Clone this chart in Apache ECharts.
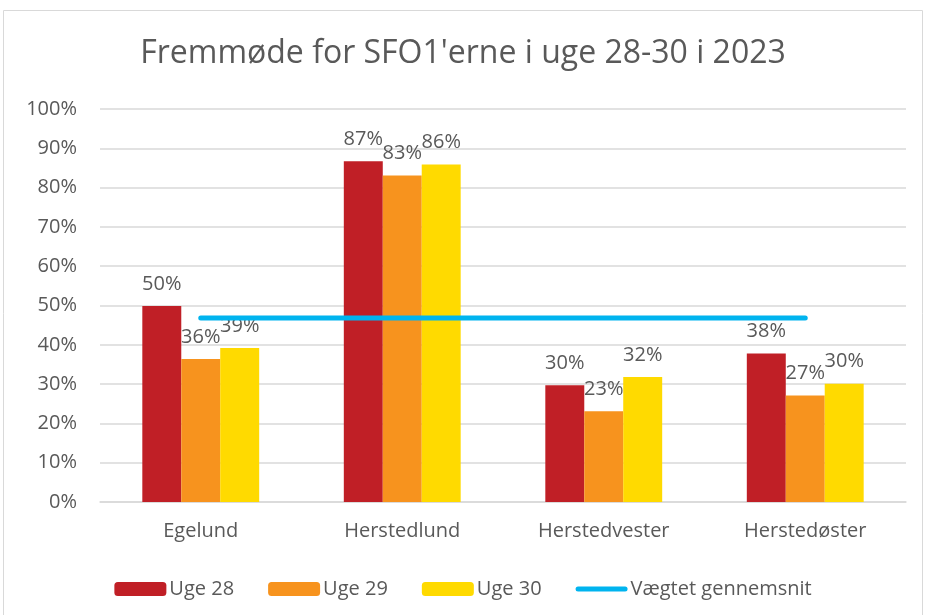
<!doctype html>
<html>
<head>
<meta charset="utf-8">
<title>Fremmøde for SFO1'erne</title>
<style>
  html, body { margin: 0; padding: 0; background: #fff; }
  #chart { width: 926px; height: 615px; }
</style>
</head>
<body>
<div id="chart"></div>
<script src="https://cdn.jsdelivr.net/npm/echarts@6/dist/echarts.min.js"></script>
<script>
// data (percent)
var categories = ['Egelund', 'Herstedlund', 'Herstedvester', 'Herstedøster'];
var uge28 = [49.9, 86.7, 29.7, 37.8];
var uge29 = [36.4, 83.1, 23.1, 27.1];
var uge30 = [39.2, 85.9, 31.8, 30.1];
var snit = [46.8, 46.8, 46.8, 46.8];
var yTicks = [0, 10, 20, 30, 40, 50, 60, 70, 80, 90, 100];

var FONT = 'Open Sans';
var GREY = '#595959';
var BLUE = '#00b4ef';

// thick rounded line for the legend, padded to the 52x14 icon box
var lineIcon = 'path://M0,0L0.01,0M52,14L51.99,14M2.5,4.5L49.5,4.5A2.5,2.5,0,0,1,49.5,9.5L2.5,9.5A2.5,2.5,0,0,1,2.5,4.5Z';

function barSeries(name, values, color) {
    return {
        name: name,
        type: 'bar',
        data: values,
        barGap: '0%',
        barCategoryGap: '42%',
        itemStyle: { color: color },
        label: {
            show: true,
            position: 'top',
            distance: 12,
            color: GREY,
            fontFamily: FONT,
            fontSize: 20,
            formatter: function (p) { return Math.round(p.value) + '%'; }
        }
    };
}

var chart = echarts.init(document.getElementById('chart'));
chart.setOption({
    animation: false,
    title: {
        text: "Fremmøde for SFO1'erne i uge 28-30 i 2023",
        left: 'center',
        top: 33,
        textStyle: { fontFamily: FONT, fontWeight: 'normal', fontSize: 32, color: GREY }
    },
    graphic: [{
        type: 'rect',
        shape: { x: 3.5, y: 10.5, width: 919, height: 610 },
        style: { fill: 'none', stroke: '#d9d9d9', lineWidth: 1 },
        silent: true
    }],
    legend: {
        top: 574,
        left: 'center',
        itemWidth: 52,
        itemHeight: 14,
        itemGap: 34,
        textStyle: { fontFamily: FONT, fontSize: 20, color: GREY, padding: [0, 0, 0, -2] },
        data: ['Uge 28', 'Uge 29', 'Uge 30', { name: 'Vægtet gennemsnit', icon: lineIcon }]
    },
    grid: { left: 100, right: 20, top: 109, bottom: 113 },
    xAxis: {
        type: 'category',
        data: categories,
        axisTick: { show: false },
        axisLine: { lineStyle: { color: '#d9d9d9', width: 1.5 } },
        axisLabel: { color: GREY, fontFamily: FONT, fontSize: 20, margin: 19 }
    },
    yAxis: {
        type: 'value',
        min: yTicks[0],
        max: yTicks[yTicks.length - 1],
        interval: 10,
        axisLine: { show: false },
        axisTick: { show: false },
        splitLine: { lineStyle: { color: '#d9d9d9', width: 1.5 } },
        axisLabel: { color: GREY, fontFamily: FONT, fontSize: 20, margin: 23, formatter: '{value}%' }
    },
    series: [
        barSeries('Uge 28', uge28, '#c01f26'),
        barSeries('Uge 29', uge29, '#f7931e'),
        barSeries('Uge 30', uge30, '#ffda00'),
        {
            name: 'Vægtet gennemsnit',
            type: 'line',
            data: snit,
            symbol: 'none',
            z: 3,
            itemStyle: { color: BLUE },
            lineStyle: { color: BLUE, width: 5, cap: 'round' }
        }
    ]
});
</script>
</body>
</html>
